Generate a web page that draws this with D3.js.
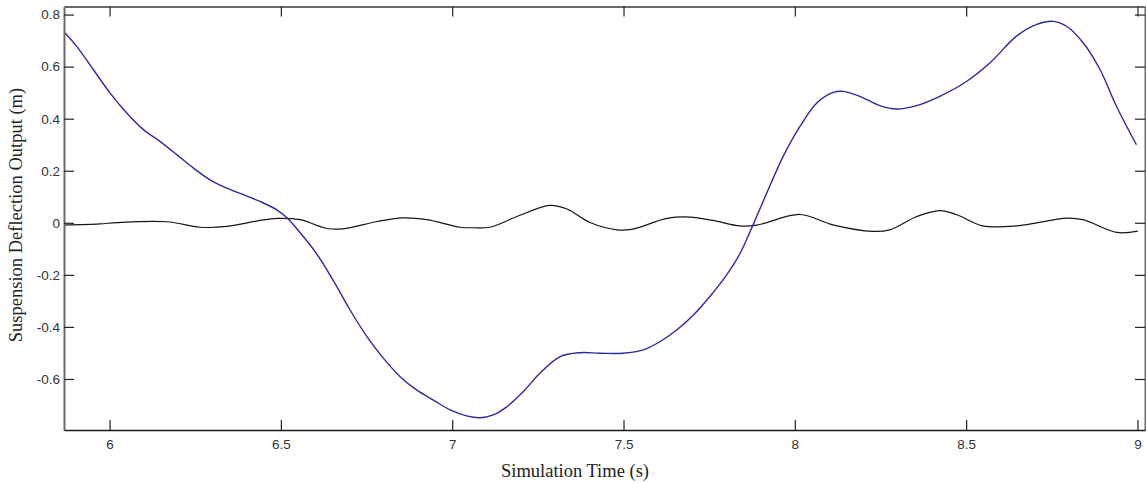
<!DOCTYPE html>
<html>
<head>
<meta charset="utf-8">
<script src="https://cdn.jsdelivr.net/npm/d3@7/dist/d3.min.js"></script>
<style>
  html, body { margin: 0; padding: 0; background: #fff; }
  svg { display: block; }
</style>
</head>
<body>
<svg id="chart" width="1146" height="483"></svg>
<script>
// Suspension deflection over simulation time: two simulated responses.
const timeBlue = [5.867, 5.904, 5.953, 6.001, 6.050, 6.099, 6.147, 6.196, 6.245, 6.293,
  6.342, 6.390, 6.439, 6.488, 6.517, 6.546, 6.605, 6.653, 6.702, 6.751, 6.799, 6.848,
  6.896, 6.945, 6.994, 7.042, 7.081, 7.120, 7.159, 7.207, 7.256, 7.315, 7.373, 7.431,
  7.499, 7.558, 7.606, 7.655, 7.704, 7.752, 7.801, 7.840, 7.879, 7.918, 7.966, 8.015,
  8.064, 8.112, 8.141, 8.190, 8.248, 8.297, 8.355, 8.423, 8.501, 8.569, 8.647, 8.706,
  8.754, 8.793, 8.842, 8.891, 8.939, 8.997];
const deflectionBlue = [0.733, 0.678, 0.588, 0.499, 0.422, 0.358, 0.313, 0.262, 0.210, 0.165,
  0.133, 0.108, 0.082, 0.050, 0.020, -0.022, -0.120, -0.222, -0.335, -0.437, -0.520, -0.591,
  -0.642, -0.681, -0.719, -0.742, -0.749, -0.738, -0.707, -0.649, -0.578, -0.514, -0.499, -0.501,
  -0.501, -0.488, -0.457, -0.412, -0.354, -0.283, -0.200, -0.118, -0.005, 0.114, 0.255, 0.370,
  0.460, 0.501, 0.505, 0.486, 0.450, 0.437, 0.450, 0.486, 0.543, 0.614, 0.717, 0.762,
  0.774, 0.755, 0.691, 0.588, 0.447, 0.300];

const timeBlack = [5.867, 5.972, 6.022, 6.168, 6.264, 6.343, 6.439, 6.489, 6.556, 6.635,
  6.681, 6.781, 6.856, 6.926, 7.023, 7.061, 7.110, 7.189, 7.285, 7.335, 7.402, 7.481,
  7.528, 7.627, 7.694, 7.761, 7.840, 7.889, 8.015, 8.111, 8.228, 8.277, 8.356, 8.423,
  8.473, 8.549, 8.648, 8.794, 8.841, 8.940, 9.001];
const deflectionBlack = [-0.008, -0.004, 0.001, 0.004, -0.017, -0.014, 0.009, 0.017, 0.012, -0.022,
  -0.023, 0.005, 0.019, 0.012, -0.017, -0.019, -0.017, 0.024, 0.067, 0.053, 0.001, -0.027,
  -0.024, 0.017, 0.022, 0.009, -0.012, -0.009, 0.032, -0.008, -0.033, -0.027, 0.024, 0.047,
  0.031, -0.012, -0.012, 0.018, 0.012, -0.037, -0.032];

const xTicks = [6, 6.5, 7, 7.5, 8, 8.5, 9];
const xTickLabels = ["6", "6.5", "7", "7.5", "8", "8.5", "9"];
const yTicks = [0.8, 0.6, 0.4, 0.2, 0, -0.2, -0.4, -0.6];
const yTickLabels = ["0.8", "0.6", "0.4", "0.2", "0", "-0.2", "-0.4", "-0.6"];

const xLabel = "Simulation Time (s)";
const yLabel = "Suspension Deflection Output (m)";

const svg = d3.select("#chart");
const plot = { left: 64, right: 1145, top: 6.5, bottom: 430 };

const x = d3.scaleLinear().domain([5.867, 9.022]).range([plot.left, plot.right]);
const y = d3.scaleLinear().domain([-0.796, 0.831]).range([plot.bottom, plot.top]);

const tickLen = 10;
const tickFont = "'Liberation Sans', Arial, sans-serif";
const labelFont = "'Liberation Serif', 'Times New Roman', serif";

// Smooth curves through the sampled points
const line = d3.line()
  .x(d => x(d[0]))
  .y(d => y(d[1]))
  .curve(d3.curveCatmullRom.alpha(0.5));

svg.append("clipPath").attr("id", "plotClip")
  .append("rect")
  .attr("x", plot.left).attr("y", plot.top)
  .attr("width", plot.right - plot.left).attr("height", plot.bottom - plot.top);

const curves = svg.append("g").attr("clip-path", "url(#plotClip)");

curves.append("path")
  .datum(d3.zip(timeBlack, deflectionBlack))
  .attr("d", line)
  .attr("fill", "none")
  .attr("stroke", "#151515")
  .attr("stroke-width", 1.2);

curves.append("path")
  .datum(d3.zip(timeBlue, deflectionBlue))
  .attr("d", line)
  .attr("fill", "none")
  .attr("stroke", "#2a2a9a")
  .attr("stroke-width", 1.4);

// Box axes with inward ticks on all four sides
const bottomAxis = d3.axisBottom(x).tickValues(xTicks)
  .tickFormat((d, i) => xTickLabels[i]).tickSizeInner(-tickLen).tickSizeOuter(0).tickPadding(9);
const topAxis = d3.axisTop(x).tickValues(xTicks)
  .tickFormat("").tickSizeInner(-tickLen).tickSizeOuter(0);
const leftAxis = d3.axisLeft(y).tickValues(yTicks)
  .tickFormat((d, i) => yTickLabels[i]).tickSizeInner(-tickLen).tickSizeOuter(0).tickPadding(4);
const rightAxis = d3.axisRight(y).tickValues(yTicks)
  .tickFormat("").tickSizeInner(-tickLen).tickSizeOuter(0);

function styleAxis(g, color, width) {
  g.select(".domain").attr("stroke", color).attr("stroke-width", width);
  g.selectAll(".tick line").attr("stroke", "#222").attr("stroke-width", 1.2);
  g.selectAll(".tick text")
    .attr("fill", "#333")
    .style("font-family", tickFont)
    .style("font-size", "13.5px");
}

svg.append("g").attr("transform", `translate(0,${plot.top})`).call(topAxis)
  .call(g => styleAxis(g, "#6a6a6a", 2));
svg.append("g").attr("transform", `translate(${plot.right},0)`).call(rightAxis)
  .call(g => styleAxis(g, "#6a6a6a", 2));
svg.append("g").attr("transform", `translate(${plot.left},0)`).call(leftAxis)
  .call(g => styleAxis(g, "#6a6a6a", 2));
svg.append("g").attr("transform", `translate(0,${plot.bottom})`).call(bottomAxis)
  .call(g => styleAxis(g, "#1a1a1a", 1.5));

// Axis titles
svg.append("text")
  .attr("x", 575).attr("y", 477)
  .attr("text-anchor", "middle")
  .attr("fill", "#222")
  .style("font-family", labelFont)
  .style("font-size", "18.5px")
  .text(xLabel);

svg.append("text")
  .attr("transform", "translate(22,215) rotate(-90)")
  .attr("text-anchor", "middle")
  .attr("fill", "#222")
  .style("font-family", labelFont)
  .style("font-size", "18.5px")
  .text(yLabel);
</script>
</body>
</html>
